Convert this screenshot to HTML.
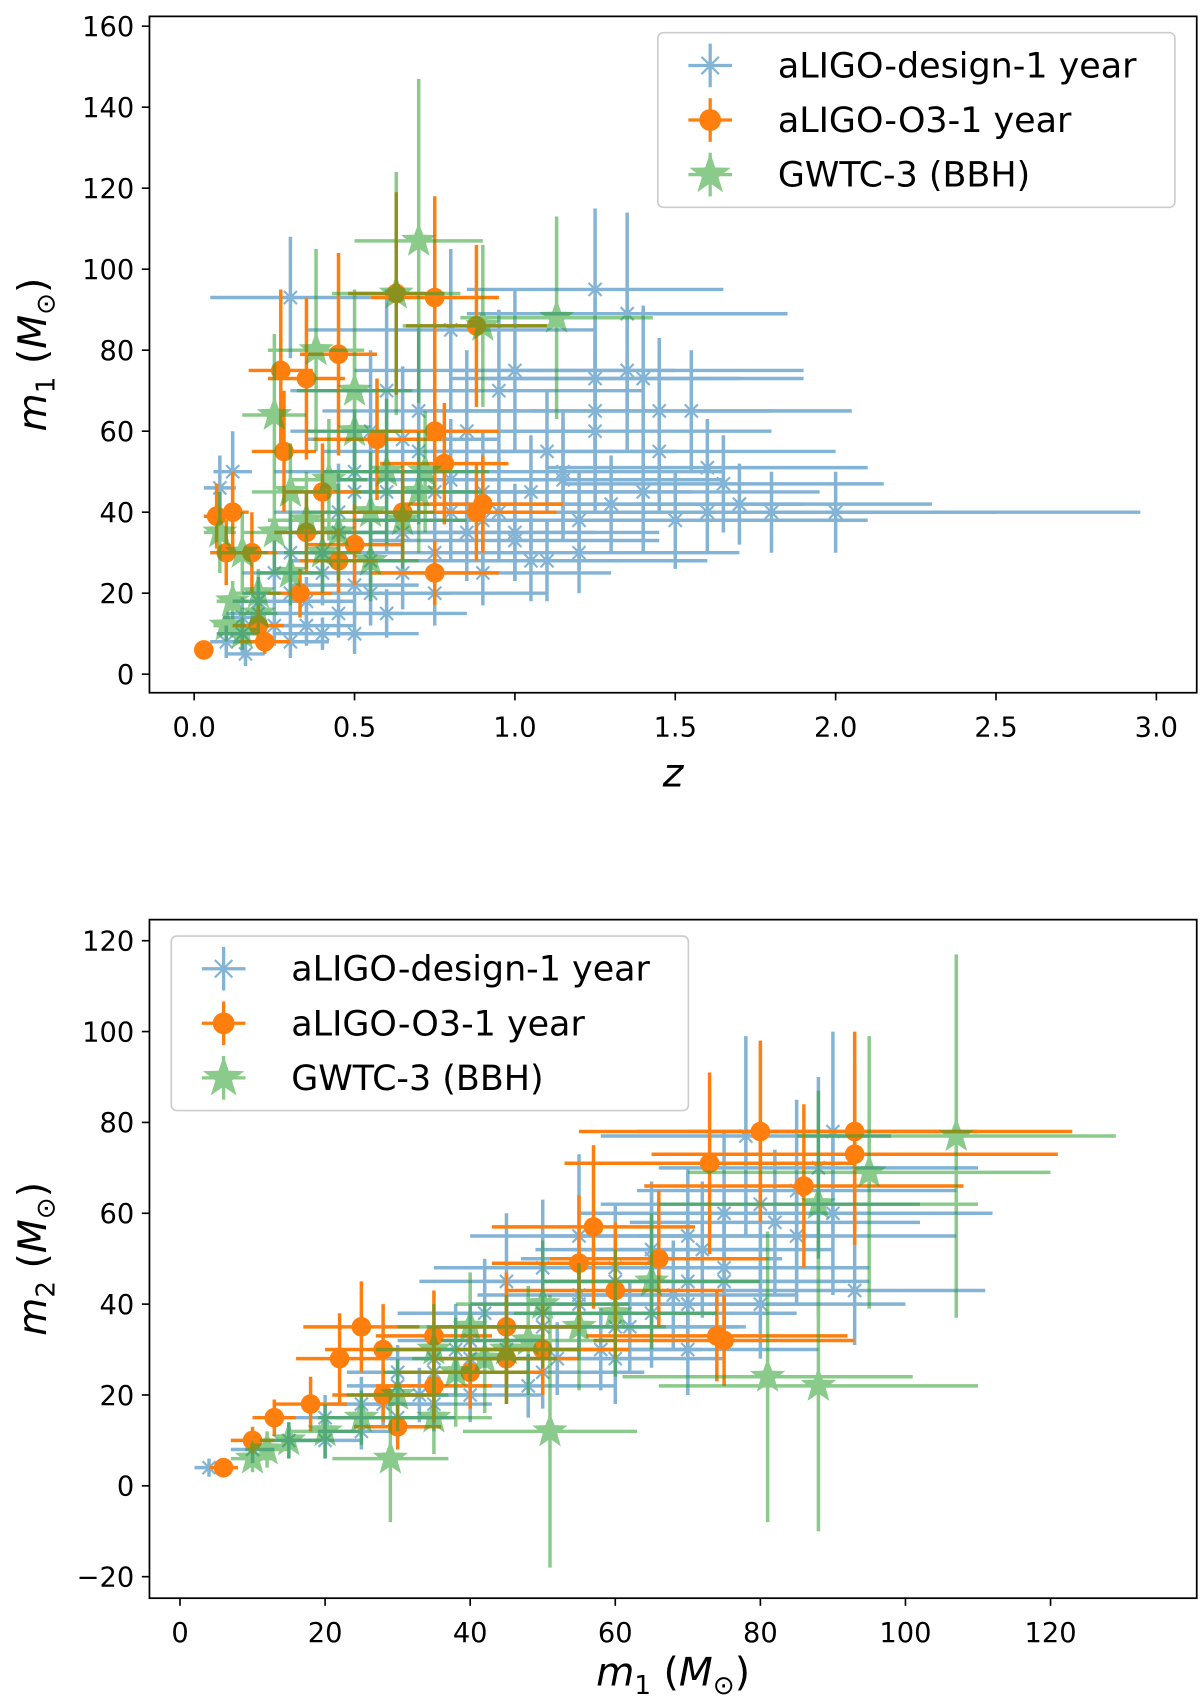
<!DOCTYPE html>
<html><head><meta charset="utf-8"><style>
body{margin:0;background:#fff;}
svg text{font-family:"DejaVu Sans","Liberation Sans",sans-serif;fill:#000;}
</style></head><body>
<svg id="s" width="1200" height="1699" viewBox="0 0 1100 1557.4" xmlns="http://www.w3.org/2000/svg"></svg>
<script>
// ---- Top panel data (z, m1, zerr, m1err)
const topBlueZ=[0.3,1.25,1.35,0.8,1.0,1.25,1.4,1.55,1.25,1.6,1.65,1.45,1.8,2.0,1.6,1.7,1.3,1.2,1.0,0.9,1.1,0.7,0.6,0.5,0.4,0.3,0.2,0.15,0.1,0.16,0.08,0.12,0.25,0.35,0.45,0.55,0.65,0.8,0.9,1.05,0.75,0.5,0.3,0.85,0.95,0.45,1.15,1.4,1.5,0.6,
 0.55,0.65,0.75,0.85,0.95,1.05,1.15,1.25,0.7,0.8,0.9,1.0,1.1,0.6,0.5,0.4,0.35,0.45,0.55,0.65,0.75,1.35,1.45,1.2,0.25,0.2,0.3,0.15,0.4,0.5];
const topBlueM=[93,95,89,85,75,73,73,65,65,51,47,55,40,40,40,42,42,30,35,45,55,65,70,50,30,20,15,10,8,5,46,50,12,18,15,28,35,40,25,28,20,10,8,60,70,40,48,45,38,45,
 20,25,30,35,40,45,50,60,55,48,38,33,28,15,22,25,12,35,60,58,45,75,65,38,25,18,30,14,10,45];
const topBlueZe=[0.25,0.4,0.5,0.45,0.5,0.45,0.5,0.5,0.55,0.5,0.5,0.55,0.7,0.95,0.7,0.6,0.6,0.5,0.45,0.4,0.4,0.3,0.3,0.25,0.2,0.15,0.1,0.08,0.05,0.06,0.05,0.06,0.1,0.15,0.2,0.25,0.3,0.35,0.4,0.45,0.35,0.2,0.12,0.4,0.45,0.2,0.5,0.55,0.6,0.25,
 0.25,0.3,0.35,0.4,0.45,0.5,0.5,0.55,0.3,0.35,0.4,0.45,0.5,0.25,0.2,0.2,0.15,0.2,0.25,0.3,0.35,0.55,0.6,0.5,0.1,0.08,0.12,0.06,0.15,0.2];
const topBlueMe=[15,20,25,20,20,20,18,15,18,12,12,15,10,10,10,10,12,10,12,15,15,20,25,15,10,8,6,5,4,3,8,10,5,6,6,10,10,12,8,10,8,5,4,20,20,12,15,15,12,15,
 8,9,10,12,12,14,15,20,18,15,12,10,10,6,8,8,5,12,20,18,15,20,18,12,8,6,10,5,4,14];
const topOrZ=[0.03,0.07,0.12,0.2,0.27,0.35,0.45,0.63,0.75,0.88,0.75,0.57,0.28,0.4,0.5,0.65,0.75,0.88,0.9,0.78,0.35,0.18,0.22,0.33,0.45,0.1];
const topOrM=[6,39,40,12,75,73,79,94,93,86,60,58,55,45,32,40,25,40,42,52,35,30,8,20,28,30];
const topOrZe=[0.02,0.04,0.05,0.08,0.1,0.12,0.12,0.15,0.2,0.22,0.2,0.2,0.1,0.12,0.15,0.2,0.2,0.25,0.25,0.2,0.1,0.08,0.08,0.1,0.12,0.05];
const topOrMe=[2,8,10,5,20,20,25,25,25,20,20,15,15,12,10,12,8,12,12,15,10,10,3,6,8,8];
const topGrZ=[0.7,1.13,0.63,0.9,0.25,0.38,0.5,0.6,0.7,0.55,0.45,0.35,0.25,0.15,0.08,0.1,0.15,0.2,0.3,0.4,0.65,0.72,0.3,0.42,0.5,0.2,0.12,0.55];
const topGrM=[107,88,94,86,64,80,60,50,45,40,35,38,35,30,35,12,10,15,25,30,38,50,45,48,70,20,18,28];
const topGrZe=[0.2,0.3,0.2,0.25,0.1,0.15,0.15,0.2,0.2,0.2,0.15,0.12,0.1,0.08,0.05,0.04,0.05,0.06,0.1,0.12,0.2,0.2,0.12,0.12,0.18,0.07,0.05,0.15];
const topGrMe=[40,25,30,20,20,25,20,18,15,15,12,12,10,10,10,4,4,5,8,10,12,15,12,15,25,6,5,10];
// ---- Bottom panel data (m1, m2, m1err, m2err)
const botBlueX=[4,10,15,20,25,30,35,40,45,50,55,60,65,70,75,80,85,90,93,78,70,60,50,40,30,20,45,55,65,75,85,90,35,25,60,70,80,50,42,38,
 30,35,40,45,50,55,60,65,70,75,48,52,58,62,68,72,82,88,28,33];
const botBlueY=[4,8,10,15,18,22,25,28,30,35,40,45,50,55,60,62,65,78,43,77,45,35,25,20,15,10,45,55,38,48,55,60,18,12,28,30,40,48,38,30,
 25,28,32,35,38,42,48,52,40,45,22,28,30,35,42,52,58,70,18,20];
const botBlueXe=[2,3,4,5,6,7,8,10,12,14,15,18,18,20,20,22,22,20,18,20,20,18,14,10,8,5,12,15,20,20,22,22,8,6,15,18,20,15,12,10,
 7,8,10,11,12,14,15,16,18,20,12,13,14,15,17,18,20,22,7,8];
const botBlueYe=[2,3,4,5,6,6,8,8,10,10,12,14,15,15,18,18,20,22,12,22,15,12,8,6,5,4,15,18,12,15,15,18,6,4,10,10,12,15,12,10,
 6,7,8,10,10,12,14,15,12,14,7,8,9,10,12,15,16,20,5,6];
const botOrX=[6,10,13,18,22,25,28,30,35,40,45,50,55,57,60,66,73,74,80,86,93,93,75,45,35,28];
const botOrY=[4,10,15,18,28,35,30,13,22,25,28,30,49,57,43,50,71,33,78,66,78,73,32,35,33,20];
const botOrXe=[2,3,3,5,6,8,8,6,8,10,10,12,12,14,15,15,20,18,25,22,30,28,18,10,8,7];
const botOrYe=[2,3,4,6,10,10,10,5,8,8,10,10,15,18,15,15,20,10,20,18,22,20,10,12,10,6];
const botGrX=[107,95,88,88,81,51,29,20,12,10,35,38,42,45,48,55,60,65,35,30,40,25,15,50];
const botGrY=[77,69,62,22,24,12,6,12,8,6,15,25,28,30,32,35,38,45,30,20,35,15,10,40];
const botGrXe=[22,25,22,22,20,12,8,5,3,3,8,10,10,10,12,12,14,15,8,7,10,6,4,12];
const botGrYe=[40,30,25,32,32,30,14,6,4,3,8,12,12,12,12,14,14,15,10,8,12,6,4,14];
// ticks
const topXTicks=[0,0.5,1,1.5,2,2.5,3], topXLabels=["0.0","0.5","1.0","1.5","2.0","2.5","3.0"];
const topYTicks=[0,20,40,60,80,100,120,140,160];
const botXTicks=[0,20,40,60,80,100,120];
const botYTicks=[-20,0,20,40,60,80,100,120], botYLabels=["\u221220","0","20","40","60","80","100","120"];

const NS="http://www.w3.org/2000/svg", S=document.getElementById('s');
function mk(tag,at,par){const e=document.createElementNS(NS,tag);for(const k in at)e.setAttribute(k,at[k]);(par||S).appendChild(e);return e;}
const BLUE="#1f77b4",OR="#ff7f0e",GR="#2ca02c";
function starPts(cx,cy,R,r){let p=[];for(let i=0;i<10;i++){const a=-Math.PI/2+i*Math.PI/5,rr=i%2?r:R;p.push((cx+rr*Math.cos(a)).toFixed(1)+','+(cy+rr*Math.sin(a)).toFixed(1));}return p.join(' ');}
function panel(P){
  const g=mk('g',{});
  
  
  const sx=v=>P.x0+(v-P.xa)*P.kx, sy=v=>P.y0-(v-P.ya)*P.ky;
  const series=[[P.bx,P.by,P.bxe,P.bye,BLUE,0.55,'blue'],[P.ox,P.oy,P.oxe,P.oye,OR,1,'orange'],[P.gx,P.gy,P.gxe,P.gye,GR,0.55,'green']];
  series.forEach(([X,Y,XE,YE,c,op,nm])=>{
    const sg=mk('g',{opacity:op},g);
    
    
    X.forEach((x,i)=>{
      const cx=sx(x),cy=sy(Y[i]);
      mk('line',{x1:sx(x-XE[i]),x2:sx(x+XE[i]),y1:cy,y2:cy,stroke:c,'stroke-width':3.2},sg);
      mk('line',{x1:cx,x2:cx,y1:sy(Y[i]-YE[i]),y2:sy(Y[i]+YE[i]),stroke:c,'stroke-width':3.2},sg);
      let m;
      if(nm==='blue'){m=mk('path',{d:`M${cx-8} ${cy}H${cx+8}M${cx} ${cy-8}V${cy+8}M${cx-6} ${cy-6}L${cx+6} ${cy+6}M${cx-6} ${cy+6}L${cx+6} ${cy-6}`,stroke:c,'stroke-width':2},sg);}
      else if(nm==='orange'){m=mk('circle',{cx:cx,cy:cy,r:9,fill:c},sg);}
      else{m=mk('polygon',{points:starPts(cx,cy,17,7),fill:c},sg);}
      
      
    });
  });
  const fr=mk('rect',{x:P.L,y:P.T,width:P.R-P.L,height:P.B-P.T,fill:'none',stroke:'#000','stroke-width':1.6},g);
  
  
  P.xt.forEach((v,i)=>{const x=sx(v);mk('line',{x1:x,x2:x,y1:P.B,y2:P.B+7,stroke:'#000','stroke-width':1.5},g);
    const t=mk('text',{x:x,y:P.B+40,'font-size':25,'text-anchor':'middle'},g);t.textContent=P.xl[i];
    
    });
  P.yt.forEach((v,i)=>{const y=sy(v);mk('line',{x1:P.L-7,x2:P.L,y1:y,y2:y,stroke:'#000','stroke-width':1.5},g);
    const t=mk('text',{x:P.L-14,y:y+9,'font-size':25,'text-anchor':'end'},g);t.textContent=P.yl[i];
    
    });
  const xl=mk('text',{x:(P.L+P.R)/2,y:P.B+P.xly,'font-size':36,'text-anchor':'middle','font-style':'italic'},g);xl.innerHTML=P.xlab;
  
  
  const yl=mk('text',{x:0,y:0,'font-size':36,'text-anchor':'middle','font-style':'italic',transform:`translate(${P.L-95},${(P.T+P.B)/2}) rotate(-90)`},g);yl.innerHTML=P.ylab;
  
  
  const lg=mk('g',{},g);
  
  
  mk('rect',{x:P.lx,y:P.ly,width:474,height:160,rx:5,fill:'#fff','fill-opacity':0.8,stroke:'#ccc','stroke-width':1.5},lg);
  const labs=['aLIGO-design-1 year','aLIGO-O3-1 year','GWTC-3 (BBH)'];
  labs.forEach((l,i)=>{const y=P.ly+30+i*50,cx=P.lx+48;
    const e=mk('g',{},lg);
    
    
    const c=[BLUE,OR,GR][i],op=[0.55,1,0.55][i];
    const mg=mk('g',{opacity:op},e);
    mk('line',{x1:cx-20,x2:cx+20,y1:y,y2:y,stroke:c,'stroke-width':3},mg);
    mk('line',{x1:cx,x2:cx,y1:y-20,y2:y+20,stroke:c,'stroke-width':3},mg);
    if(i===0)mk('path',{d:`M${cx-10} ${y}H${cx+10}M${cx} ${y-10}V${y+10}M${cx-8} ${y-8}L${cx+8} ${y+8}M${cx-8} ${y+8}L${cx+8} ${y-8}`,stroke:c,'stroke-width':2},mg);
    else if(i===1)mk('circle',{cx:cx,cy:y,r:10,fill:c},mg);
    else mk('polygon',{points:starPts(cx,y,20,8),fill:c},mg);
    const t=mk('text',{x:P.lx+110,y:y+11,'font-size':32},e);t.textContent=l;});
}
panel({name:'top-panel',L:137,R:1097,T:15,B:635,x0:178,xa:0,kx:294,y0:618,ya:0,ky:3.7125,xly:86,
  bx:topBlueZ,by:topBlueM,bxe:topBlueZe,bye:topBlueMe,ox:topOrZ,oy:topOrM,oxe:topOrZe,oye:topOrMe,gx:topGrZ,gy:topGrM,gxe:topGrZe,gye:topGrMe,
  xt:topXTicks,xl:topXLabels,yt:topYTicks,yl:topYTicks.map(String),
  xlab:'z',ylab:'m<tspan font-size="24" dy="8" font-style="normal">1</tspan><tspan dy="-8" font-style="normal"> (</tspan>M<tspan font-size="24" dy="8" font-style="normal">⊙</tspan><tspan dy="-8" font-style="normal">)</tspan>',lx:603,ly:30});
panel({name:'bottom-panel',L:137,R:1097,T:843,B:1465,x0:165,xa:0,kx:6.65,y0:1362,ya:0,ky:4.164,xly:80,
  bx:botBlueX,by:botBlueY,bxe:botBlueXe,bye:botBlueYe,ox:botOrX,oy:botOrY,oxe:botOrXe,oye:botOrYe,gx:botGrX,gy:botGrY,gxe:botGrXe,gye:botGrYe,
  xt:botXTicks,xl:botXTicks.map(String),yt:botYTicks,yl:botYLabels,
  xlab:'m<tspan font-size="24" dy="8" font-style="normal">1</tspan><tspan dy="-8" font-style="normal"> (</tspan>M<tspan font-size="24" dy="8" font-style="normal">⊙</tspan><tspan dy="-8" font-style="normal">)</tspan>',
  ylab:'m<tspan font-size="24" dy="8" font-style="normal">2</tspan><tspan dy="-8" font-style="normal"> (</tspan>M<tspan font-size="24" dy="8" font-style="normal">⊙</tspan><tspan dy="-8" font-style="normal">)</tspan>',lx:157,ly:858});
</script>
</body></html>
